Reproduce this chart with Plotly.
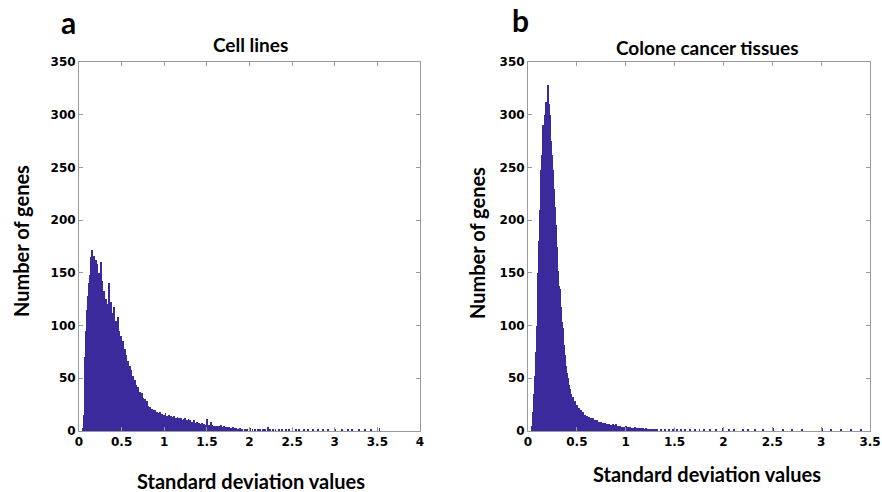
import numpy as np
import plotly.graph_objects as go

BIN_W = 0.01

# Panel a: Cell lines — counts per 0.01-wide bin, first bin starts at 0.04
a_first_bin = 0.04
a_counts = [
    3, 15, 40, 70, 95, 115, 128, 140, 148, 165,
    155, 172, 160, 166, 150, 162, 148, 158, 145, 150,
    138, 160, 135, 142, 128, 133, 118, 125, 112, 120,
    108, 140, 115, 122, 105, 112, 98, 118, 100, 104,
    92, 108, 88, 95, 84, 90, 78, 85, 74, 78,
    68, 72, 64, 66, 58, 62, 54, 58, 50, 52,
    46, 48, 42, 44, 38, 42, 35, 37, 32, 36,
    30, 31, 27, 30, 25, 28, 22, 24, 20, 23,
    19, 21, 18, 20, 16, 20, 15, 18, 14, 17,
    14, 18, 14, 16, 13, 15, 13, 17, 12, 14,
    12, 15, 11, 14, 11, 13, 10, 14, 11, 12,
    10, 13, 10, 12, 9, 12,
    10, 8, 11, 9, 12, 8, 10, 7, 11, 8,
    10, 7, 9, 7, 10, 6, 8, 6, 9, 6,
    8, 5, 7, 6, 8, 5, 7, 5, 6, 5,
    11, 5, 6, 4, 9, 4, 6, 4, 5, 4,
    5, 3, 5, 4, 5, 3, 6, 3, 4, 3,
    5, 3, 4, 2, 4, 3, 4, 2, 3, 2,
    4, 2, 3, 2, 3, 2, 2, 1, 3, 2,
]
a_tail_x = [1.91, 1.94, 1.97, 2.00, 2.03, 2.06, 2.09, 2.12, 2.15, 2.18, 2.21, 2.24,
            2.27, 2.30, 2.34, 2.38, 2.42, 2.46, 2.50, 2.54, 2.58, 2.63, 2.68, 2.74,
            2.80, 2.86, 2.92, 3.00, 3.08, 3.15, 3.20, 3.28, 3.35, 3.42, 3.52]
a_tail_counts = [2, 1, 2, 3, 2, 1, 2, 2, 1, 2, 4, 2,
                 1, 1, 2, 1, 1, 1, 2, 1, 1, 1, 2, 1,
                 1, 1, 1, 2, 1, 1, 2, 1, 1, 1, 3]

# Panel b: Colone cancer tissues — counts per 0.01-wide bin, first bin starts at 0.04
b_first_bin = 0.04
b_counts = [
    5, 18, 35, 52, 75, 100, 150, 180, 210, 248,
    262, 290, 270, 300, 312, 305, 328, 310, 300, 275,
    262, 248, 230, 212, 195, 175, 152, 138, 135, 118,
    103, 98, 82, 72, 62, 55, 50, 44, 40, 36,
    35, 30, 32, 26, 28, 23, 25, 20, 22, 18,
    20, 15, 18, 13, 15, 12,
    14, 12, 13, 11, 12, 10, 12, 9, 10, 8,
    10, 8, 9, 7, 9, 7, 8, 6, 8, 6,
    7, 5, 7, 5, 6, 5, 7, 4, 6, 4,
    7, 4, 5, 3, 5, 3, 4, 3, 4, 3,
    5, 3, 4, 2, 4, 3, 2, 3, 2, 4,
    2, 3, 2, 3, 2, 3, 1, 3, 2, 2,
    3, 1, 2, 2, 1, 2, 1, 2, 1, 2, 1,
]
b_tail_x = [1.32, 1.36, 1.40, 1.44, 1.48, 1.52, 1.56, 1.60, 1.65, 1.70, 1.75, 1.80,
            1.86, 1.92, 1.99, 2.05, 2.10, 2.20, 2.25, 2.32, 2.40, 2.50, 2.60, 2.70,
            2.80, 3.00, 3.10, 3.20, 3.30, 3.40]
b_tail_counts = [2, 1, 2, 1, 2, 1, 1, 1, 1, 1, 1, 1,
                 1, 1, 3, 2, 1, 1, 1, 1, 1, 3, 1, 1,
                 1, 3, 1, 1, 1, 2]

y_ticks = [0, 50, 100, 150, 200, 250, 300, 350]
a_x_ticks = [0, 0.5, 1, 1.5, 2, 2.5, 3, 3.5, 4]
b_x_ticks = [0, 0.5, 1, 1.5, 2, 2.5, 3, 3.5]

BAR_COLOR = "#3a2a9c"


def centers(first, n):
    return first + BIN_W * (np.arange(n) + 0.5)


fig = go.Figure()
a_x = np.concatenate([centers(a_first_bin, len(a_counts)), np.array(a_tail_x) + BIN_W / 2])
a_y = list(a_counts) + list(a_tail_counts)
b_x = np.concatenate([centers(b_first_bin, len(b_counts)), np.array(b_tail_x) + BIN_W / 2])
b_y = list(b_counts) + list(b_tail_counts)

fig.add_trace(go.Bar(x=a_x, y=a_y, width=BIN_W, marker=dict(color=BAR_COLOR, line=dict(width=0)),
                     xaxis="x", yaxis="y", showlegend=False))
fig.add_trace(go.Bar(x=b_x, y=b_y, width=BIN_W, marker=dict(color=BAR_COLOR, line=dict(width=0)),
                     xaxis="x2", yaxis="y2", showlegend=False))

W, H = 882, 492
tickfont = dict(family="DejaVu Sans", size=12, color="black", weight="bold")
ax_common = dict(showline=True, linecolor="#9a9a9a", linewidth=1, mirror="ticks",
                 ticks="inside", ticklen=4, tickcolor="#9a9a9a", showgrid=False,
                 zeroline=False, tickfont=tickfont, automargin=False)

ytop = 1 - 62 / H
ybot = 1 - 431 / H
fig.update_layout(
    width=W, height=H, margin=dict(l=0, r=0, t=0, b=0),
    plot_bgcolor="white", paper_bgcolor="white", bargap=0,
    xaxis=dict(domain=[79 / W, 420 / W], range=[0, 4], tickvals=a_x_ticks, anchor="y", **ax_common),
    yaxis=dict(domain=[ybot, ytop], range=[0, 350], tickvals=y_ticks, anchor="x", **ax_common),
    xaxis2=dict(domain=[528 / W, 870 / W], range=[0, 3.5], tickvals=b_x_ticks, anchor="y2", **ax_common),
    yaxis2=dict(domain=[ybot, ytop], range=[0, 350], tickvals=y_ticks, anchor="x2", **ax_common),
)

title_font = dict(family="Lato", size=19, color="black", weight="bold")
label_font = dict(family="Lato", size=20, color="black", weight="bold")
letter_font = dict(family="Lato", size=30, color="black", weight="bold")


def ann(text, x, y, font, angle=0):
    fig.add_annotation(text=text, x=x / W, y=1 - y / H, xref="paper", yref="paper",
                       showarrow=False, font=font, textangle=angle,
                       xanchor="center", yanchor="middle")


ann("a", 68, 22, letter_font)
ann("b", 520, 20, letter_font)
ann("Cell lines", 250, 45, title_font)
ann("Colone cancer tissues", 707, 47, title_font)
ann("Number of genes", 21, 241, label_font, -90)
ann("Number of genes", 477, 243, label_font, -90)
ann("Standard deviation values", 251, 481, label_font)
ann("Standard deviation values", 707, 474, label_font)

fig.write_html("out.html", config={"displayModeBar": False},
               post_script="document.body.style.margin='0';document.body.style.overflow='hidden';")
